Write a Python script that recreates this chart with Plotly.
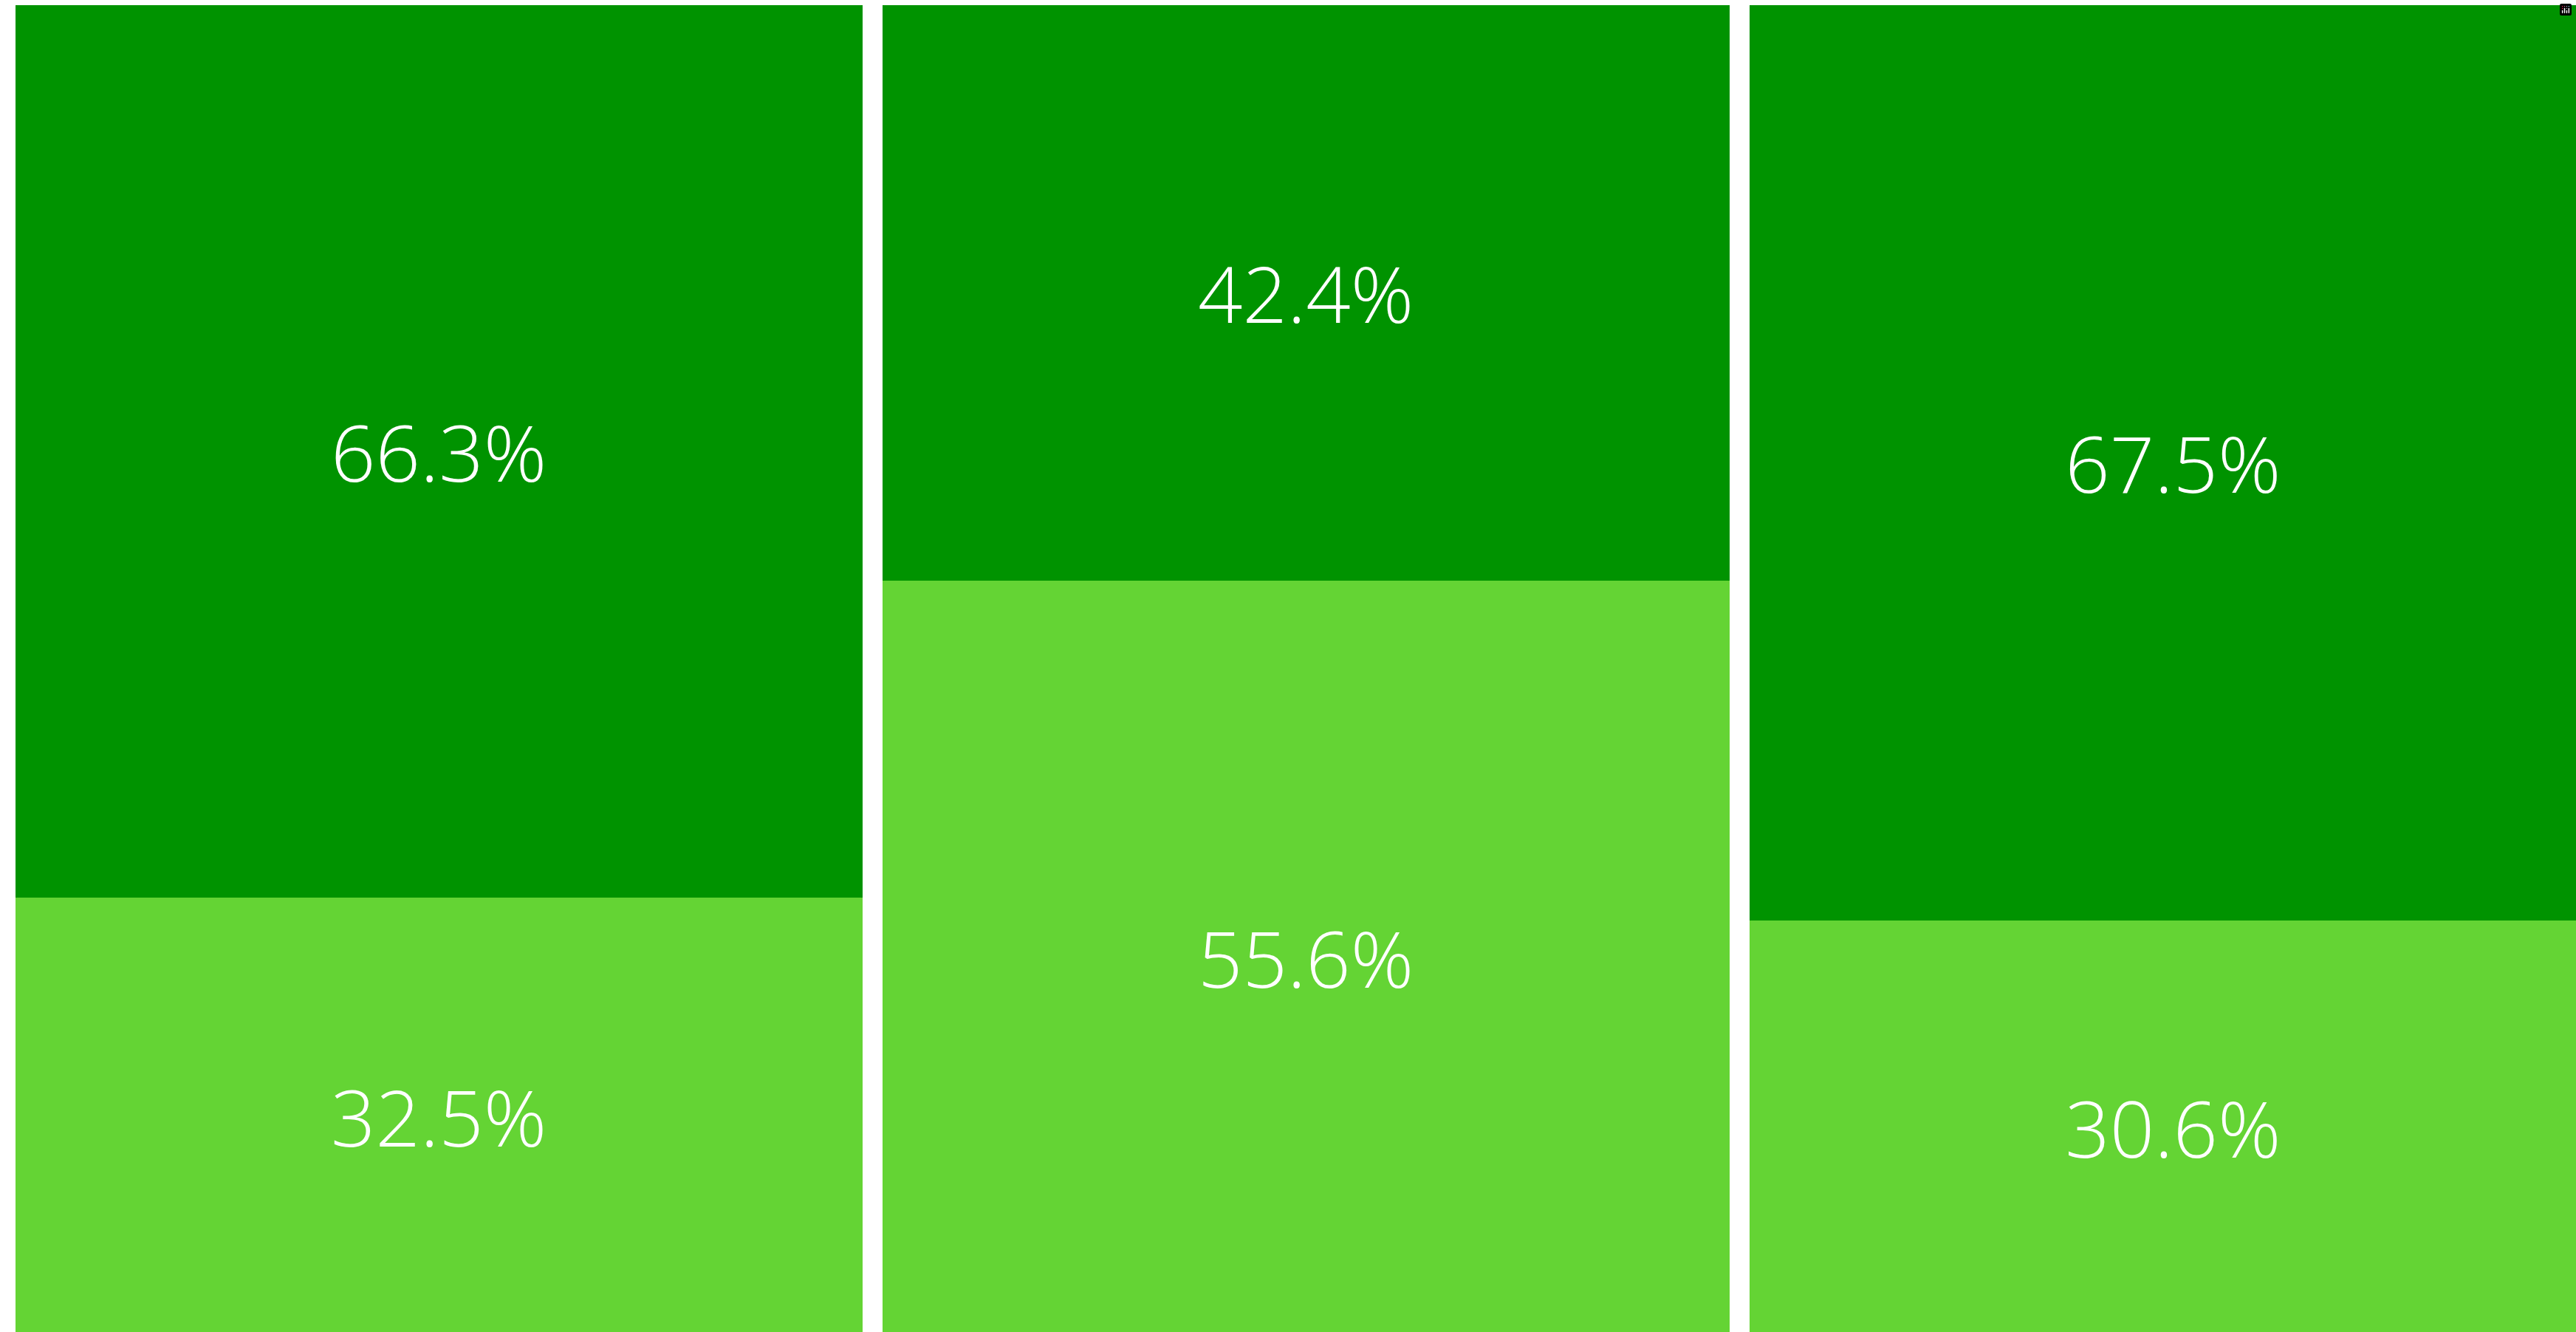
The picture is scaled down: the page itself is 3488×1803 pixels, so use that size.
import plotly.graph_objects as go

categories = ["A", "B", "C"]
bottom_values = [32.5, 55.6, 30.6]
top_values = [66.3, 42.4, 67.5]
bottom_labels = ["32.5%", "55.6%", "30.6%"]
top_labels = ["66.3%", "42.4%", "67.5%"]

label_font = dict(family="Open Sans", size=106, color="#FFFFFF", weight=350)

fig = go.Figure()
fig.add_trace(go.Bar(
    x=categories, y=bottom_values, text=bottom_labels,
    marker=dict(color="#64D434", line=dict(width=0)),
    textposition="inside", insidetextanchor="middle", textangle=0,
    textfont=label_font, constraintext="none",
    hoverinfo="skip",
))
fig.add_trace(go.Bar(
    x=categories, y=top_values, text=top_labels,
    marker=dict(color="#009300", line=dict(width=0)),
    textposition="inside", insidetextanchor="middle", textangle=0,
    textfont=label_font, constraintext="none",
    hoverinfo="skip",
))

fig.update_layout(
    barmode="stack",
    barnorm="percent",
    bargap=0.023,
    showlegend=False,
    width=3488,
    height=1803,
    margin=dict(l=7, r=0, t=7, b=0, pad=0),
    paper_bgcolor="white",
    plot_bgcolor="white",
    modebar=dict(bgcolor="rgba(0,0,0,0)", color="rgba(0,0,0,0)", activecolor="rgba(0,0,0,0)"),
    xaxis=dict(visible=False, range=[-0.5, 2.4647]),
    yaxis=dict(visible=False, range=[0.22, 100]),
)

fig.write_html(
    "out.html",
    post_script="document.body.style.margin='0';document.documentElement.style.overflow='hidden';document.body.style.overflow='hidden';",
)
